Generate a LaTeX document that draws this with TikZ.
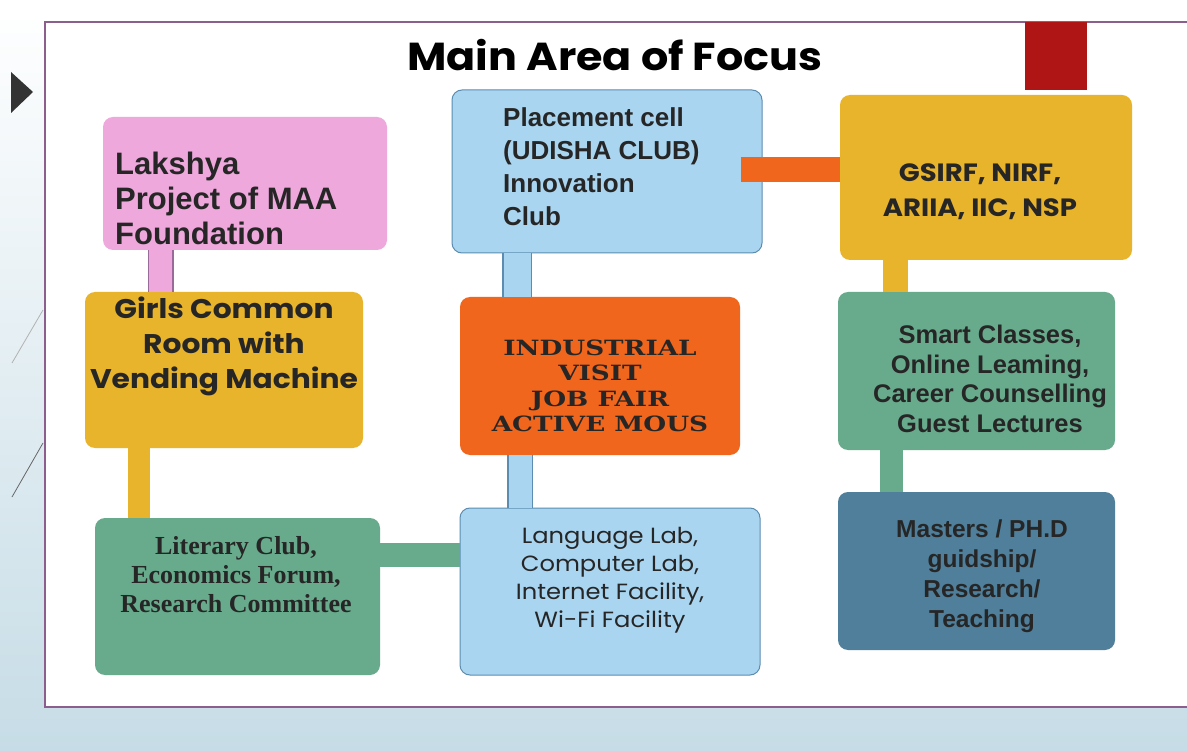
\documentclass[tikz,border=0pt]{standalone}
\usepackage{fontspec}
\setmainfont{Liberation Sans}
\newfontfamily\gothicfont{Poppins}
\newfontfamily\gothicwide[FakeStretch=1.1]{Poppins}
\newfontfamily\serifbold{Liberation Serif}
\newfontfamily\slabfont[FakeStretch=1.25]{DejaVu Serif}
\definecolor{bgblue}{HTML}{C6DCE6}
\definecolor{framepurple}{HTML}{8B5E8E}
\definecolor{lakpink}{HTML}{EEA8DC}
\definecolor{lakedge}{HTML}{9A6A9A}
\definecolor{gold}{HTML}{E8B42C}
\definecolor{sage}{HTML}{68AB8C}
\definecolor{skyblue}{HTML}{A9D5F0}
\definecolor{skyedge}{HTML}{5C8DB0}
\definecolor{fireorange}{HTML}{F0661C}
\definecolor{steel}{HTML}{4F7F9A}
\definecolor{darkred}{HTML}{B01515}
\begin{document}
\begin{tikzpicture}[x=1pt, y=-1pt,
    box/.style={rectangle, rounded corners=10pt, inner sep=0pt},
    boxtext/.style={text=black!85, inner sep=0pt},
    bar/.style={line width=#1}]
    \useasboundingbox (0,0) rectangle (1187,751);

    % Slide background and frame
    \shade[top color=white, bottom color=bgblue] (0,0) rectangle (1187,751);
    \fill[white] (0,0) rectangle (1187,20);
    \draw[framepurple, line width=1.2pt, fill=white] (45,22) rectangle (1200,707);
    \fill[darkred] (1025,22) rectangle (1087,90);
    \fill[black!80] (11,72) -- (33,92) -- (11,113) -- cycle;
    \draw[gray!60, line width=0.8pt] (12,363) -- (43,310);
    \draw[black!60, line width=0.8pt] (12,497) -- (43,443);

    % Title
    \node[font=\gothicwide\bfseries\fontsize{39}{44}\selectfont] (title) at (615,55) {Main Area of Focus};

    % Left column
    \node[box, fill=lakpink, minimum width=284pt, minimum height=133pt] (lak) at (245,183.5) {};
    \node[boxtext, anchor=west, align=left, font=\bfseries\fontsize{31}{35}\selectfont] (lakText) at (115,198) {Lakshya\\Project of MAA\\Foundation};
    \node[box, fill=gold, minimum width=278pt, minimum height=156pt] (girls) at (224,370) {};
    \node[boxtext, align=center, font=\gothicwide\bfseries\fontsize{27}{35}\selectfont] (girlsText) at (224,346) {Girls Common\\Room with\\Vending Machine};
    \node[box, fill=sage, minimum width=285pt, minimum height=157pt] (lit) at (237.5,596.5) {};
    \node[boxtext, align=center, font=\serifbold\bfseries\fontsize{26}{29}\selectfont] (litText) at (236,575) {Literary Club,\\Economics Forum,\\Research Committee};

    % Middle column
    \node[box, fill=skyblue, draw=skyedge, line width=1pt, minimum width=310pt, minimum height=163pt] (place) at (607,171.5) {};
    \node[boxtext, anchor=west, align=left, font=\bfseries\fontsize{26}{33}\selectfont] (placeText) at (503,167) {Placement cell\\(UDISHA CLUB)\\Innovation\\Club};
    \node[box, fill=fireorange, minimum width=280pt, minimum height=158pt] (ind) at (600,376) {};
    \node[boxtext, align=center, font=\slabfont\bfseries\fontsize{21}{25.5}\selectfont] (indText) at (600,386) {INDUSTRIAL\\VISIT\\JOB FAIR\\ACTIVE MOUS};
    \node[box, fill=skyblue, draw=skyedge, line width=1pt, minimum width=300pt, minimum height=167pt] (lang) at (610,591.5) {};
    \node[boxtext, align=center, font=\gothicwide\fontsize{22}{28}\selectfont] (langText) at (610,580) {Language Lab,\\Computer Lab,\\Internet Facility,\\Wi-Fi Facility};

    % Right column
    \node[box, fill=gold, minimum width=292pt, minimum height=165pt] (gsirf) at (986,177.5) {};
    \node[boxtext, align=center, font=\gothicwide\bfseries\fontsize{25}{35}\selectfont] (gsirfText) at (980,192) {GSIRF, NIRF,\\ARIIA, IIC, NSP};
    \node[box, fill=sage, minimum width=277pt, minimum height=158pt] (smart) at (976.5,371) {};
    \node[boxtext, align=center, font=\bfseries\fontsize{25.5}{29.5}\selectfont] (smartText) at (990,379) {Smart Classes,\\Online Leaming,\\Career Counselling\\Guest Lectures};
    \node[box, fill=steel, minimum width=277pt, minimum height=158pt] (mast) at (976.5,571) {};
    \node[boxtext, align=center, font=\bfseries\fontsize{24.5}{30}\selectfont] (mastText) at (982,576) {Masters / PH.D\\guidship/\\Research/\\Teaching};

    % Connecting bars
    \draw[lakedge, line width=26pt] ([xshift=-84.5pt]lak.south) -- ([xshift=-63.5pt]girls.north);
    \draw[lakpink, line width=23pt] ([xshift=-84.5pt]lak.south) -- ([xshift=-63.5pt]girls.north);
    \draw[gold, bar=22pt] ([xshift=-85pt]girls.south) -- ([xshift=-98.5pt]lit.north);
    \draw[sage, bar=24pt] ([yshift=41.5pt]lit.east) -- ([yshift=36.5pt]lang.west);
    \draw[skyedge, bar=30pt] ([xshift=-90pt]place.south) -- ([xshift=-83pt]ind.north);
    \draw[skyblue, bar=27pt] ([xshift=-90pt]place.south) -- ([xshift=-83pt]ind.north);
    \draw[skyedge, bar=26pt] ([xshift=-80pt]ind.south) -- ([xshift=-90pt]lang.north);
    \draw[skyblue, bar=23pt] ([xshift=-80pt]ind.south) -- ([xshift=-90pt]lang.north);
    \draw[fireorange, bar=25pt] ([xshift=-22pt, yshift=1.5pt]place.east) -- ([yshift=7.5pt]gsirf.west);
    \draw[gold, bar=25pt] ([xshift=-90.5pt]gsirf.south) -- ([xshift=-81pt]smart.north);
    \draw[sage, bar=23pt] ([xshift=-85pt]smart.south) -- ([xshift=-85pt]mast.north);
\end{tikzpicture}
\end{document}
